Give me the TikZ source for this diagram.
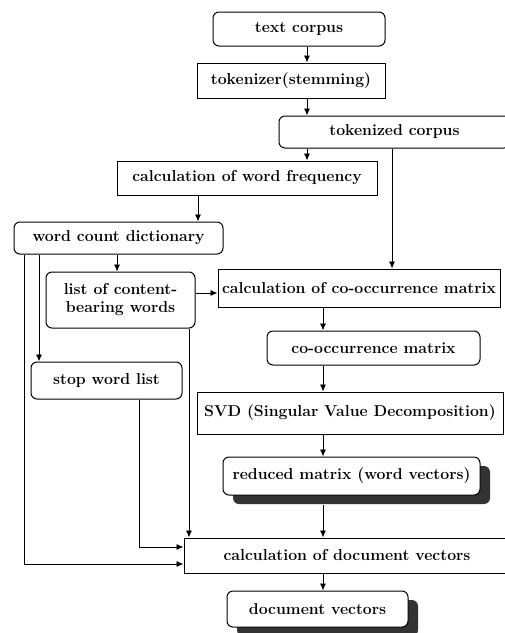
\documentclass[tikz,border=0pt]{standalone}
\usetikzlibrary{arrows.meta,shadows,calc}
\begin{document}
\begin{tikzpicture}[x=1pt,y=-1pt,
  box/.style={draw,line width=1pt,inner sep=0pt,font=\fontsize{15.8}{18}\selectfont\bfseries,align=center},
  rbox/.style={box,rounded corners=6pt},
  sbox/.style={box},
  shad/.style={drop shadow={shadow xshift=10pt,shadow yshift=-9pt,fill=black!80,opacity=1}},
  conn/.style={line width=0.9pt},
  arr/.style={conn,-{Latex[length=7pt,width=6pt]}}]
\useasboundingbox (0,0) rectangle (505,633);
\node[rbox,minimum width=172pt,minimum height=34pt] (tc) at (299,29) {text corpus};
\node[sbox,minimum width=188pt,minimum height=35pt] (tok) at (291,80.5) {tokenizer(stemming)};
\node[rbox,minimum width=231pt,minimum height=32pt] (tkc) at (394.5,132) {tokenized corpus};
\node[sbox,minimum width=260pt,minimum height=34pt] (wf) at (247,178) {calculation of word frequency};
\node[rbox,minimum width=209pt,minimum height=32pt] (wcd) at (118.5,238) {word count dictionary};
\node[rbox,minimum width=149pt,minimum height=56pt] (lst) at (120.5,300) {list of content-\\bearing words};
\node[sbox,minimum width=282pt,minimum height=38pt] (cco) at (359,288) {calculation of co-occurrence matrix};
\node[rbox,minimum width=213pt,minimum height=34pt] (com) at (373.5,348) {co-occurrence matrix};
\node[rbox,minimum width=151pt,minimum height=37pt] (stp) at (106.5,380.5) {stop word list};
\node[sbox,minimum width=306pt,minimum height=42pt] (svd) at (350,413) {SVD (Singular Value Decomposition)};
\node[rbox,shad,fill=white,minimum width=257pt,minimum height=38pt] (red) at (351.5,476) {reduced matrix (word vectors)};
\node[sbox,minimum width=326pt,minimum height=35pt] (cdv) at (347,555.5) {calculation of document vectors};
\node[rbox,shad,fill=white,minimum width=181pt,minimum height=36pt] (dv) at (317.5,609) {document vectors};
\coordinate (xa) at (307,0);
\coordinate (xb) at (392,0);
\coordinate (xc) at (198,0);
\coordinate (xd) at (117,0);
\coordinate (xe) at (39,0);
\coordinate (xf) at (24,0);
\coordinate (xg) at (189,0);
\coordinate (xh) at (139,0);
\coordinate (xi) at (323,0);
\coordinate (ya) at (0,547);
\coordinate (yb) at (0,564);
\coordinate (yc) at (0,293);
\draw[arr] (tc.south -| xa) -- (tok.north -| xa);
\draw[arr] (tok.south -| xa) -- (tkc.north -| xa);
\draw[arr] (tkc.south -| xa) -- (wf.north -| xa);
\draw[arr] (tkc.south -| xb) -- (cco.north -| xb);
\draw[arr] (wf.south -| xc) -- (wcd.north -| xc);
\draw[arr] (wcd.south -| xd) -- (lst.north -| xd);
\draw[arr] (wcd.south -| xe) -- (stp.north -| xe);
\draw[arr] (wcd.south -| xf) -- (xf |- yb) -- (cdv.west |- yb);
\draw[arr] (lst.east |- yc) -- (cco.west |- yc);
\draw[arr] (lst.south -| xg) -- (cdv.north -| xg);
\draw[arr] (stp.south -| xh) -- (xh |- ya) -- (cdv.west |- ya);
\draw[arr] (cco.south -| xi) -- (com.north -| xi);
\draw[arr] (com.south -| xi) -- (svd.north -| xi);
\draw[arr] (svd.south -| xi) -- (red.north -| xi);
\draw[arr] ($(red.south -| xi)+(0,9)$) -- (cdv.north -| xi);
\draw[arr] (cdv.south -| xi) -- (dv.north -| xi);
\end{tikzpicture}
\end{document}
